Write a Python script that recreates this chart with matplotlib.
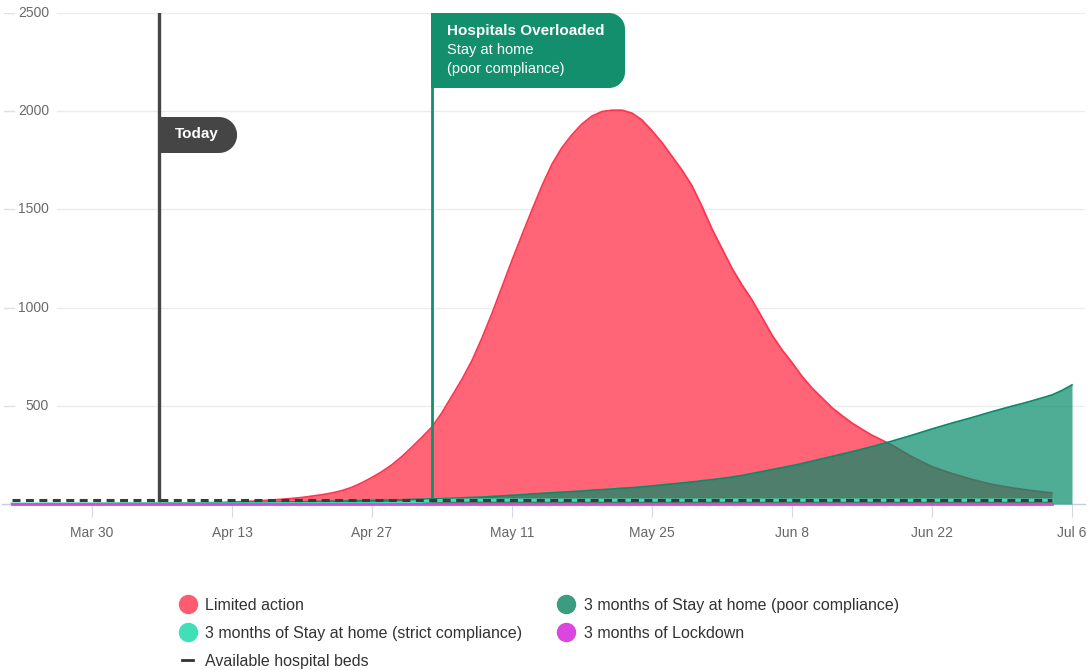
import numpy as np
import pandas as pd
import matplotlib
matplotlib.use("Agg")
import matplotlib.pyplot as plt
import matplotlib.dates as mdates
from matplotlib.lines import Line2D
from matplotlib.patches import PathPatch
from matplotlib.path import Path

plt.rcParams["font.family"] = ["Liberation Sans", "DejaVu Sans"]

# -----------------------------
# Data (daily values from Mar 22)
# -----------------------------
start_date = "2020-03-22"

limited_action = [0, 0, 0, 1, 1, 1, 1, 1, 1, 2, 2, 2, 2, 3, 3, 3, 4, 4,
                  5, 6, 7, 8, 10, 12, 14, 17, 20, 24,
                  28, 33, 40, 47, 56, 68, 85, 108, 135, 165,
                  200, 242, 290, 340, 392, 465, 550, 635, 730, 845,
                  970, 1105, 1240, 1370, 1497, 1620, 1730, 1815, 1880, 1935,
                  1975, 1998, 2005, 2005, 1990, 1955, 1900, 1840, 1770, 1700,
                  1620, 1515, 1400, 1300, 1200, 1115, 1039, 950, 860, 785,
                  720, 650, 590, 540, 490, 450, 412, 380, 350, 325,
                  300, 270, 240, 215, 190, 172, 155, 140, 125, 112,
                  100, 91, 82, 75, 68, 62, 56]

poor_compliance = [0, 0, 0, 0, 1, 1, 1, 1, 1, 1, 2, 2, 2, 2, 3, 3, 3, 3,
                   4, 4, 5, 5, 6, 6, 7, 7, 8, 9,
                   10, 11, 12, 13, 14, 15, 16, 17, 18, 19,
                   20, 21, 23, 24, 26, 27, 29, 31, 33, 35,
                   38, 41, 44, 47, 51, 54, 57, 60, 63, 66,
                   70, 73, 76, 80, 83, 87, 92, 97, 102, 107,
                   112, 118, 124, 130, 137, 145, 155, 165, 175, 185,
                   195, 206, 218, 230, 242, 254, 266, 279, 292, 306,
                   320, 335, 350, 366, 382, 397, 412, 426, 440, 455,
                   470, 484, 498, 511, 525, 540, 555, 578, 606]

# every 2 days from Mar 22
strict_compliance = [0, 0, 0, 0, 0, 1, 1, 1, 1, 1, 1, 1, 1, 2, 2, 2, 2, 2, 2,
                     3, 10, 17, 19,
                     20, 20, 20, 20, 20, 20, 20, 20, 20, 20,
                     20, 20, 20, 20, 20, 20, 20, 20, 20, 20,
                     20, 20, 20, 20, 20, 20, 20, 20, 20, 20]

lockdown = [0] * 53

hospital_beds = 21
beds_start, beds_end = "2020-03-22", "2020-07-04"

today = "2020-04-05 17:00"
overloaded = "2020-05-03"

tick_dates = ["2020-03-30", "2020-04-13", "2020-04-27", "2020-05-11",
              "2020-05-25", "2020-06-08", "2020-06-22", "2020-07-06"]
tick_labels = ["Mar 30", "Apr 13", "Apr 27", "May 11", "May 25", "Jun 8", "Jun 22", "Jul 6"]
y_ticks = [500, 1000, 1500, 2000, 2500]

d_red = pd.date_range(start_date, periods=len(limited_action), freq="D")
d_green = pd.date_range(start_date, periods=len(poor_compliance), freq="D")
d_strict = pd.date_range(start_date, periods=len(strict_compliance), freq="2D")
d_lock = pd.date_range(start_date, periods=len(lockdown), freq="2D")

RED = "#ff5d6f"
GREEN = "#048b69"
STRICT = "#3fe0b8"
LOCK = "#d946e0"
DARK = "#454545"
HOSP = "#138f6e"

W, H = 1091, 670
fig = plt.figure(figsize=(W / 100, H / 100), dpi=100)
ax = fig.add_axes([2 / W, (H - 504) / H, (1085 - 2) / W, (504 - 13) / H])

x0 = pd.Timestamp("2020-03-30") - pd.Timedelta(days=9)
x1 = pd.Timestamp("2020-03-30") + pd.Timedelta(days=99.3)
ax.set_xlim(x0, x1)
ax.set_ylim(0, 2500)

for s in ["top", "right", "left"]:
    ax.spines[s].set_visible(False)
ax.spines["bottom"].set_color("#c9cbe0")
ax.spines["bottom"].set_linewidth(1)

# gridlines start right of the labels
for v in y_ticks:
    ax.axhline(v, xmin=55 / 1083, xmax=1, color="#ececec", lw=1, zorder=0)
    ax.axhline(v, xmin=2 / 1083, xmax=12 / 1083, color="#e0e0e0", lw=1, zorder=0)
    ax.text(47 / 1083, v, str(v), transform=ax.get_yaxis_transform(),
            ha="right", va="center", fontsize=10, color="#6a6a6a")
ax.set_yticks([])

ax.set_xticks(pd.to_datetime(tick_dates))
ax.set_xticklabels(tick_labels)
ax.tick_params(axis="x", length=9, color="#d6d8e8", labelsize=10,
               labelcolor="#666666", pad=7)

# -----------------------------
# Series
# -----------------------------
ax.fill_between(d_red, limited_action, color=RED, alpha=0.95, lw=0, zorder=2)
ax.plot(d_red, limited_action, color="#ff3552", lw=1.3, zorder=2)

ax.fill_between(d_green, poor_compliance, color=GREEN, alpha=0.7, lw=0, zorder=3)
ax.plot(d_green, poor_compliance, color="#0b8a68", lw=1.3, zorder=3)

ax.axvline(pd.Timestamp(today), color=DARK, lw=2.4, zorder=4)
ax.axvline(pd.Timestamp(overloaded), color=HOSP, lw=2, zorder=4)

ax.plot(d_strict, strict_compliance, color=STRICT, lw=2.2, zorder=5)
ax.plot(pd.to_datetime([beds_start, beds_end]), [hospital_beds, hospital_beds],
        color="#3a3a3a", lw=2.2, dashes=(2.6, 1.8), zorder=6)
ax.plot(d_lock, lockdown, color=LOCK, lw=2, zorder=6, clip_on=False)


# -----------------------------
# Flag-shaped labels on the vertical lines (built in pixels)
# -----------------------------
def flag(xl, yt, w, h, r, color):
    pts = [(xl, yt), (xl + w - r, yt)]
    a = np.linspace(-np.pi / 2, 0, 12)
    pts += [(xl + w - r + r * np.cos(t), yt + r + r * np.sin(t)) for t in a]
    pts += [(xl + w, yt + h - r)]
    a = np.linspace(0, np.pi / 2, 12)
    pts += [(xl + w - r + r * np.cos(t), yt + h - r + r * np.sin(t)) for t in a]
    pts += [(xl, yt + h), (xl, yt)]
    verts = [(px / W, 1 - py / H) for px, py in pts]
    fig.patches.append(PathPatch(Path(verts), transform=fig.transFigure,
                                 facecolor=color, edgecolor="none", zorder=10))


fig.canvas.draw()
x_today = ax.transData.transform((mdates.date2num(pd.Timestamp(today)), 0))[0]
x_hosp = ax.transData.transform((mdates.date2num(pd.Timestamp(overloaded)), 0))[0]

flag(x_today - 1, 117, 79, 36, 18, DARK)
fig.text((x_today + 16) / W, 1 - 134 / H, "Today", color="white",
         fontsize=11, fontweight="bold", va="center", ha="left", zorder=11)

flag(x_hosp - 1, 13, 194, 75, 16, HOSP)
fig.text((x_hosp + 15) / W, 1 - 31 / H, "Hospitals Overloaded", color="white",
         fontsize=11, fontweight="bold", va="center", ha="left", zorder=11)
fig.text((x_hosp + 15) / W, 1 - 50 / H, "Stay at home", color="white",
         fontsize=10.5, va="center", ha="left", zorder=11)
fig.text((x_hosp + 15) / W, 1 - 69 / H, "(poor compliance)", color="white",
         fontsize=10.5, va="center", ha="left", zorder=11)

# -----------------------------
# Legend
# -----------------------------
handles = [
    Line2D([], [], marker="o", ls="", color=RED, markersize=13),
    Line2D([], [], marker="o", ls="", color=STRICT, markersize=13),
    Line2D([], [], color="#333333", lw=2),
    Line2D([], [], marker="o", ls="", color="#3a9d80", markersize=13),
    Line2D([], [], marker="o", ls="", color=LOCK, markersize=13),
]
labels = ["Limited action",
          "3 months of Stay at home (strict compliance)",
          "Available hospital beds",
          "3 months of Stay at home (poor compliance)",
          "3 months of Lockdown"]
fig.legend(handles, labels, ncol=2, frameon=False, loc="upper left",
           bbox_to_anchor=(182 / W, 1 - 598 / H), fontsize=11.5,
           handlelength=0.7, handletextpad=0.75, labelspacing=0.8,
           columnspacing=2.4, borderpad=0, borderaxespad=0,
           labelcolor="#333333")

fig.savefig("out.png", dpi=100)
